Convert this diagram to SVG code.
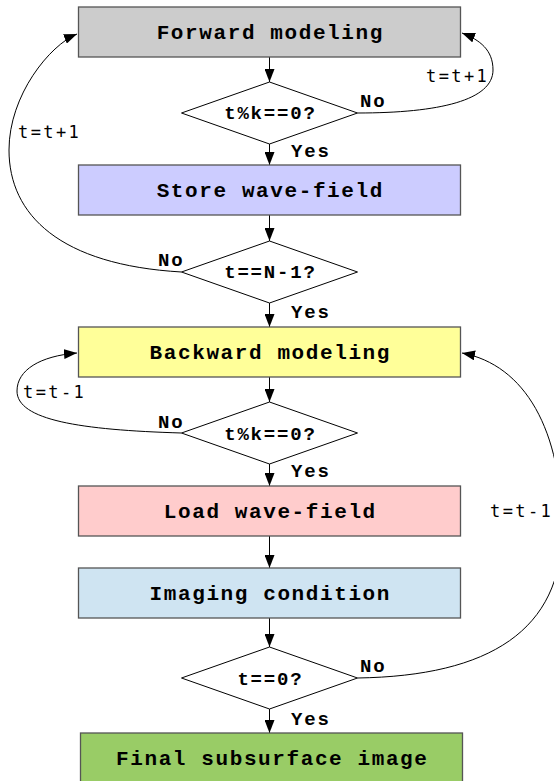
<svg xmlns="http://www.w3.org/2000/svg" width="554" height="781" viewBox="0 0 554 781">
<defs>
<marker id="ah" markerUnits="userSpaceOnUse" markerWidth="14" markerHeight="10" refX="13" refY="5" orient="auto">
<path d="M0,0 L13,5 L0,10 z" fill="#000"/>
</marker>
<style>
.box{stroke:#555;stroke-width:1.3}
.dia{fill:#fff;stroke:#000;stroke-width:1}
.lbl{font-family:"Liberation Mono","DejaVu Sans Mono",monospace;font-weight:bold;font-size:21px;letter-spacing:1.6px;fill:#000;text-anchor:middle}
.dl{font-family:"Liberation Mono","DejaVu Sans Mono",monospace;font-weight:bold;font-size:19px;letter-spacing:1.8px;fill:#000;text-anchor:middle}
.yn{font-family:"Liberation Mono","DejaVu Sans Mono",monospace;font-weight:bold;font-size:19px;letter-spacing:1.8px;fill:#000}
.cl{font-family:"DejaVu Sans Mono","Liberation Mono",monospace;font-size:17px;letter-spacing:2.4px;fill:#000}
.con{fill:none;stroke:#000;stroke-width:1;marker-end:url(#ah)}
</style>
</defs>
<rect width="554" height="781" fill="#fff"/>
<g id="connectors">
<path class="con" d="M269.5,57 V82"/>
<path class="con" d="M269.5,144 V165"/>
<path class="con" d="M269.5,215 V241"/>
<path class="con" d="M269.5,303 V327"/>
<path class="con" d="M269.5,377 V402"/>
<path class="con" d="M269.5,464 V486"/>
<path class="con" d="M269.5,536 V568"/>
<path class="con" d="M269.5,618 V647"/>
<path class="con" d="M269.5,709 V733"/>
<path class="con" d="M357.5,113 C440,113 493,100 493,70 C493,50 480,40 462,33"/>
<path class="con" d="M181.5,272 C60,265 9,215 9,150 C9,95 50,45 77,34"/>
<path class="con" d="M181.5,433 C80,430 17,420 17,391 C17,370 40,356 77,353"/>
<path class="con" d="M357.5,678 C490,676 562,630 562,530 C562,430 525,365 462,353"/>
<text class="yn" x="360" y="107">No</text>
<text class="yn" x="291" y="157">Yes</text>
<text class="yn" x="158" y="266">No</text>
<text class="yn" x="291" y="317.5">Yes</text>
<text class="yn" x="158" y="428">No</text>
<text class="yn" x="291" y="477">Yes</text>
<text class="yn" x="360" y="672">No</text>
<text class="yn" x="291" y="725">Yes</text>
<text class="cl" x="426" y="82">t=t+1</text>
<text class="cl" x="18" y="138">t=t+1</text>
<text class="cl" x="23" y="398">t=t-1</text>
<text class="cl" x="490" y="517">t=t-1</text>
</g>
<g id="forward"><rect class="box" x="78.5" y="7" width="382" height="50" fill="#cccccc"/><text class="lbl" x="270.3" y="39">Forward modeling</text></g>
<g id="check1"><polygon class="dia" points="269.5,82 357.5,113 269.5,144 181.5,113"/><text class="dl" x="270.4" y="119">t%k==0?</text></g>
<g id="store"><rect class="box" x="78.5" y="165" width="382" height="50" fill="#ccccff"/><text class="lbl" x="270.3" y="197">Store wave-field</text></g>
<g id="check2"><polygon class="dia" points="269.5,241 357.5,272 269.5,303 181.5,272"/><text class="dl" x="270.4" y="278">t==N-1?</text></g>
<g id="backward"><rect class="box" x="78.5" y="327" width="382" height="50" fill="#ffff99"/><text class="lbl" x="270.3" y="359">Backward modeling</text></g>
<g id="check3"><polygon class="dia" points="269.5,402 357.5,433 269.5,464 181.5,433"/><text class="dl" x="270.4" y="440">t%k==0?</text></g>
<g id="load"><rect class="box" x="78.5" y="486" width="382" height="50" fill="#ffcccc"/><text class="lbl" x="270.3" y="518">Load wave-field</text></g>
<g id="imaging"><rect class="box" x="78.5" y="568" width="382" height="50" fill="#cfe4f2"/><text class="lbl" x="270.3" y="600">Imaging condition</text></g>
<g id="check4"><polygon class="dia" points="269.5,647 357.5,678 269.5,709 181.5,678"/><text class="dl" x="270.4" y="685">t==0?</text></g>
<g id="final"><rect class="box" x="80.5" y="733" width="382" height="50" fill="#99cc66"/><text class="lbl" x="272.3" y="765">Final subsurface image</text></g>
</svg>
